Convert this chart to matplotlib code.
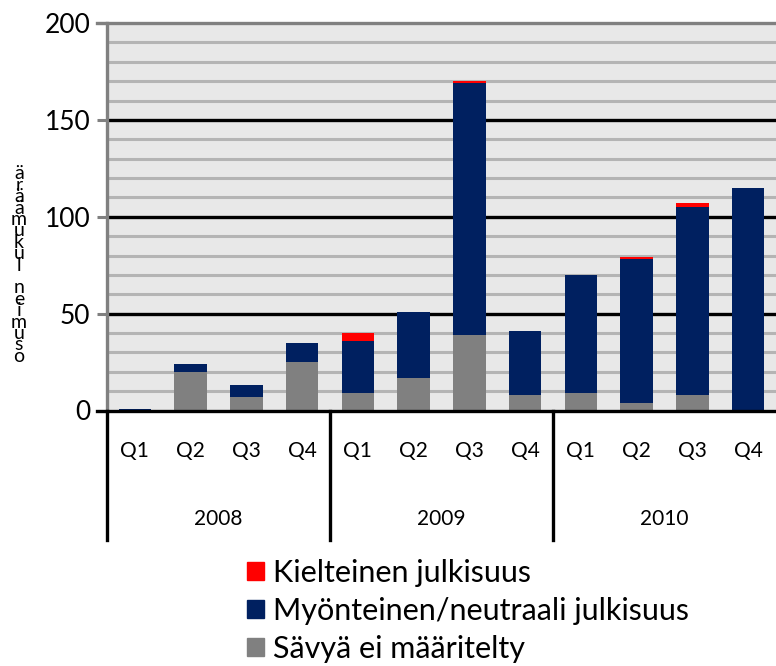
import matplotlib
matplotlib.use("Agg")
import matplotlib.pyplot as plt
from matplotlib.patches import Patch
import numpy as np

plt.rcParams['font.family'] = ['Lato', 'DejaVu Sans']

QUARTERS = ["Q1", "Q2", "Q3", "Q4"] * 3
YEARS = ["2008", "2009", "2010"]
GRAY_VALS = [0, 20, 7, 25, 9, 17, 39, 8, 9, 4, 8, 0]
BLUE_VALS = [1, 4, 6, 10, 27, 34, 130, 33, 61, 74, 97, 115]
RED_VALS = [0, 0, 0, 0, 4, 0, 1, 0, 0, 1, 2, 0]
LABELS = ["Sävyä ei määritelty", "Myönteinen/neutraali julkisuus", "Kielteinen julkisuus"]
YLABEL = "osumien lukumäärä"

C_GRAY = "#808080"
C_BLUE = "#002060"
C_RED = "#FF0000"

fig = plt.figure(figsize=(7.76, 6.66), dpi=100)
ax = fig.add_axes([107 / 776, (666 - 410.5) / 666, 669 / 776, 387.5 / 666])
ax.set_facecolor("#E8E8E8")

x = np.arange(len(QUARTERS))
gray = np.array(GRAY_VALS)
blue = np.array(BLUE_VALS)
red = np.array(RED_VALS)
w = 0.58
ax.bar(x, gray, w, color=C_GRAY, zorder=3)
ax.bar(x, blue, w, bottom=gray, color=C_BLUE, zorder=3)
ax.bar(x, red, w, bottom=gray + blue, color=C_RED, zorder=3)

ax.set_xlim(-0.5, 11.5)
ax.set_ylim(0, 200)

# grid lines
for v in range(10, 200, 10):
    if v % 50 == 0:
        ax.axhline(v, color="black", lw=2.4, zorder=2)
    else:
        ax.axhline(v, color="#B4B4B4", lw=2.2, zorder=1)

ax.set_yticks([0, 50, 100, 150, 200])
ax.tick_params(axis="y", length=7, width=2.2, color=C_GRAY, labelsize=19, pad=5)
ax.set_xticks(x)
ax.set_xticklabels(QUARTERS, fontsize=15)
ax.tick_params(axis="x", length=0, pad=22)

for s in ["right", "bottom", "top"]:
    ax.spines[s].set_visible(False)
ax.spines["left"].set_color(C_GRAY)
ax.spines["left"].set_linewidth(2.4)
ax.plot([-0.68, 11.5], [200, 200], color=C_GRAY, lw=2.4, clip_on=False, zorder=4)

# category axis
ax.plot([-0.68, 11.5], [0, 0], color="black", lw=2.4, clip_on=False, zorder=5)
for xs in [-0.5, 3.5, 7.5]:
    ax.plot([xs, xs], [0, -67], color="black", lw=2.4, clip_on=False, zorder=5)
for i, yr in enumerate(YEARS):
    ax.text(i * 4 + 1.5, -56, yr, ha="center", va="center", fontsize=15, clip_on=False)

# stacked y label
stacked = "\n".join(reversed(list(YLABEL)))
fig.text(19 / 776, 1 - 265 / 666, stacked, ha="center", va="center", fontsize=14,
         linespacing=0.6)

handles = [Patch(color=C_RED), Patch(color=C_BLUE), Patch(color=C_GRAY)]
fig.legend(handles, [LABELS[2], LABELS[1], LABELS[0]], loc="upper left",
           bbox_to_anchor=(247 / 776, 1 - 559 / 666), frameon=False, fontsize=22,
           handlelength=0.55, handleheight=0.55, handletextpad=0.3, labelspacing=0.32,
           borderpad=0, borderaxespad=0)

fig.savefig("out.png", dpi=100)
